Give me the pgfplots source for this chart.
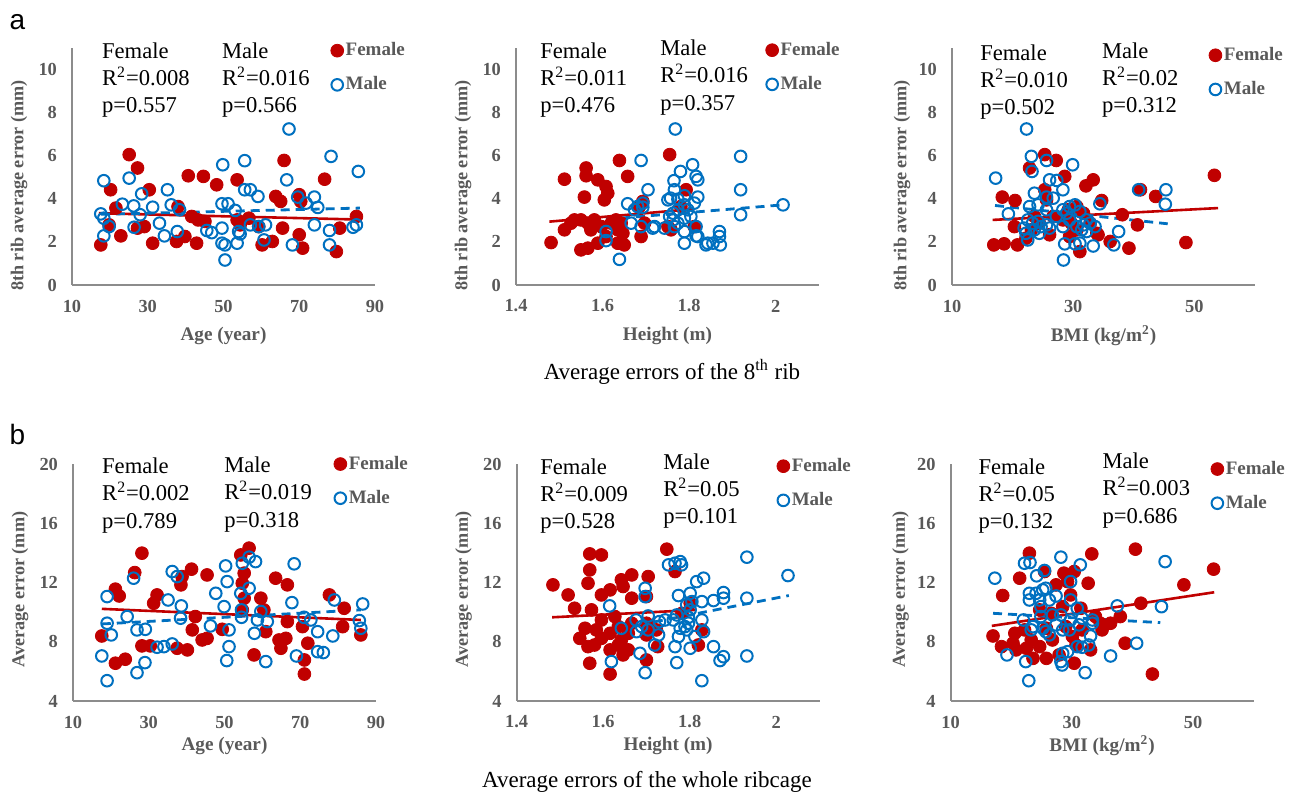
\documentclass[border=0pt]{standalone}
\usepackage{pgfplots}
\pgfplotsset{compat=1.18}
\usepackage{fontspec}
\setmainfont{Liberation Serif}
\newfontfamily\arialfont{Liberation Sans}
\definecolor{femred}{HTML}{C00000}
\definecolor{maleblue}{HTML}{0070C0}
\definecolor{tickgray}{HTML}{595959}
\definecolor{axgray}{HTML}{8C8C8C}
\newcommand{\labfont}{\bfseries\fontsize{9.6}{11}\selectfont\color{tickgray}}
\newcommand{\ylabfont}{\bfseries\fontsize{9.1}{11}\selectfont\color{tickgray}}
\pgfplotsset{
  panel/.style={
    scale only axis, width=151.5pt, height=118.5pt,
    axis x line*=bottom, axis y line*=left,
    axis line style={-, draw=axgray, line width=0.9pt},
    major tick length=0pt, tick style={draw=none},
    ticklabel style={font=\bfseries\fontsize{9.2}{10}\selectfont, text=tickgray},
    /pgf/number format/assume math mode=true,
    xticklabel style={anchor=center, yshift=-10.5pt},
    yticklabel style={anchor=east, xshift=-4pt},
    clip=false,
    legend cell align=left,
    legend style={draw=none, fill=none, inner sep=0pt, row sep=7pt, column sep=0pt,
      font=\bfseries\fontsize{9.5}{11}\selectfont, text=tickgray, nodes={inner sep=1pt}, anchor=north west},
    legend image code/.code={\draw[##1] plot coordinates {(0pt,0pt)};},
  },
  toprow/.style={ymin=0, ymax=11, ytick={0,2,4,6,8,10},
    every axis y label/.style={at={(axis description cs:-0.175,0.42)}, rotate=90, anchor=center, font=\ylabfont, text=tickgray},
    every axis x label/.style={at={(axis description cs:0.5,-0.215)}, anchor=center, font=\labfont, text=tickgray}},
  botrow/.style={ymin=4, ymax=20, ytick={4,8,12,16,20},
    every axis y label/.style={at={(axis description cs:-0.175,0.47)}, rotate=90, anchor=center, font=\ylabfont, text=tickgray},
    every axis x label/.style={at={(axis description cs:0.5,-0.19)}, anchor=center, font=\labfont, text=tickgray}},
  agex/.style={xmin=10, xmax=90, xtick={10,30,50,70,90}},
  htx/.style={xmin=1.4, xmax=2.1, xtick={1.4,1.6,1.8,2}},
  bmix/.style={xmin=10, xmax=60, xtick={10,30,50}},
  fem/.style={only marks, color=femred, mark=*, mark size=3.2pt, mark options={draw=femred, fill=femred}},
  mal/.style={only marks, color=maleblue, mark=o, mark size=2.9pt, mark options={draw=maleblue, line width=1pt}},
  femline/.style={femred, line width=1.3pt, no marks, forget plot},
  malline/.style={maleblue, line width=1.4pt, dash pattern=on 4.5pt off 3pt, no marks, forget plot},
}
\newcommand{\ann}[3]{\node[anchor=north west, align=left, inner sep=0pt, font=\fontsize{11.3}{13.7}\selectfont] at (rel axis cs:#1,#2) {#3};}
\begin{document}
\begin{tikzpicture}
\path[use as bounding box] (0,0) rectangle (651.5pt,398.5pt);
\node[font=\arialfont\fontsize{14}{14}\selectfont] at (8.75pt,387.25pt) {a};
\node[font=\arialfont\fontsize{14}{14}\selectfont] at (8.75pt,181pt) {b};
\node[font=\fontsize{11.5}{13}\selectfont] at (336pt,212.5pt) {Average errors of the 8\textsuperscript{th} rib};
\node[font=\fontsize{11.5}{13}\selectfont] at (323.5pt,7.5pt) {Average errors of the whole ribcage};

% ---------- Panel 1 ----------
\begin{axis}[panel, toprow, agex, at={(36pt,256pt)}, anchor=south west,
  xlabel={Age (year)}, ylabel={8th rib average error (mm)},
  legend style={at={(rel axis cs:0.853,1.033)}}]
\addplot[fem] coordinates {(25.1,6.05)(27.3,5.43)(20.2,4.42)(30.4,4.42)(21.6,3.57)(17.6,1.86)(22.9,2.28)(19.8,2.79)(29.1,2.71)(27.3,2.64)(31.3,1.94)(40.7,5.07)(44.7,5.04)(48.2,4.65)(38.0,3.64)(37.6,2.02)(39.8,2.25)(42.9,1.94)(41.6,3.18)(43.3,3.02)(45.1,2.95)(53.6,4.88)(53.6,3.02)(54.4,2.79)(56.7,3.10)(59.3,2.71)(60.2,1.86)(62.9,2.02)(63.8,4.11)(65.1,3.88)(66.0,5.78)(65.6,2.64)(70.0,4.19)(70.4,3.88)(70.0,2.33)(70.9,1.71)(76.7,4.91)(80.7,2.64)(79.8,1.55)(85.1,3.18)};
\addlegendentry{Female}
\addplot[mal] coordinates {(18.4,4.84)(25.1,4.96)(23.3,3.75)(26.3,3.67)(28.4,4.23)(31.3,3.61)(35.2,4.42)(36.2,3.72)(38.4,3.49)(17.6,3.30)(18.4,3.10)(19.8,2.71)(18.4,2.28)(26.4,2.68)(28.0,3.26)(33.1,2.87)(34.4,2.28)(37.8,2.48)(45.6,2.53)(46.9,2.43)(49.6,3.77)(51.2,3.77)(53.1,3.46)(49.6,2.64)(49.6,1.94)(50.4,1.86)(50.4,1.16)(53.6,1.94)(54.0,2.48)(54.4,2.37)(49.8,5.58)(55.6,5.77)(55.6,4.42)(57.1,4.42)(59.1,4.11)(57.1,2.79)(59.3,2.71)(61.1,2.79)(60.7,2.09)(67.3,7.24)(66.7,4.88)(69.6,4.08)(71.8,3.80)(74.0,4.08)(74.9,3.60)(74.0,2.79)(68.2,1.86)(78.0,2.53)(78.0,1.86)(78.4,5.97)(84.2,2.68)(85.1,2.79)(85.6,5.27)};
\addlegendentry{Male}
\addplot[femline] coordinates {(17.1,3.33)(85.1,3.04)};
\addplot[malline] coordinates {(17.6,3.28)(86.0,3.57)};
\ann{0.098}{1.025}{Female\\R\textsuperscript{2}=0.008\\p=0.557}
\ann{0.494}{1.025}{Male\\R\textsuperscript{2}=0.016\\p=0.566}
\end{axis}

% ---------- Panel 2 ----------
\begin{axis}[panel, toprow, htx, at={(258pt,256pt)}, anchor=south west,
  xlabel={Height (m)}, ylabel={8th rib average error (mm)},
  legend style={at={(rel axis cs:0.823,1.035)}}]
\addplot[fem] coordinates {(1.512,4.91)(1.562,5.43)(1.562,5.07)(1.589,4.88)(1.608,4.57)(1.612,4.26)(1.558,4.08)(1.604,3.95)(1.639,5.78)(1.658,5.04)(1.755,6.05)(1.793,4.42)(1.693,3.88)(1.481,1.97)(1.512,2.56)(1.527,2.87)(1.550,3.02)(1.566,2.87)(1.573,2.56)(1.597,2.71)(1.550,1.63)(1.566,1.71)(1.589,1.94)(1.608,2.25)(1.635,1.94)(1.650,1.86)(1.643,2.87)(1.647,2.40)(1.689,2.25)(1.697,2.87)(1.751,2.71)(1.758,2.56)(1.812,2.71)(1.631,3.02)(1.535,3.02)(1.581,3.02)(1.620,2.87)(1.635,2.56)(1.685,3.64)(1.781,3.64)};
\addlegendentry{Female}
\addplot[mal] coordinates {(1.768,7.24)(1.689,5.78)(1.808,5.58)(1.780,5.27)(1.765,4.84)(1.816,5.04)(1.820,4.88)(1.705,4.42)(1.766,4.42)(1.789,4.14)(1.820,4.08)(1.757,4.03)(1.774,3.98)(1.658,3.77)(1.681,3.64)(1.693,3.61)(1.789,3.72)(1.919,5.97)(1.919,4.42)(1.919,3.26)(2.017,3.72)(1.608,2.48)(1.608,2.06)(1.639,1.19)(1.666,2.87)(1.689,2.71)(1.716,2.64)(1.743,2.64)(1.763,3.02)(1.766,2.71)(1.789,3.10)(1.789,2.48)(1.789,1.94)(1.816,2.71)(1.816,2.28)(1.839,1.86)(1.855,1.94)(1.870,2.48)(1.870,2.25)(1.872,1.86)(1.763,3.33)(1.751,3.95)(1.797,3.49)(1.774,2.87)(1.804,3.18)(1.720,2.71)(1.674,3.49)(1.843,1.94)(1.820,2.25)(1.693,3.80)(1.774,3.49)(1.755,3.18)(1.812,3.80)};
\addlegendentry{Male}
\addplot[femline] coordinates {(1.477,2.94)(1.812,3.53)};
\addplot[malline] coordinates {(1.608,3.05)(2.017,3.72)};
\ann{0.079}{1.025}{Female\\R\textsuperscript{2}=0.011\\p=0.476}
\ann{0.475}{1.037}{Male\\R\textsuperscript{2}=0.016\\p=0.357}
\end{axis}

% ---------- Panel 3 ----------
\begin{axis}[panel, toprow, bmix, at={(476pt,256pt)}, anchor=south west,
  xlabel={BMI (kg/m\textsuperscript{2})}, ylabel={8th rib average error (mm)},
  every axis y label/.append style={at={(axis description cs:-0.165,0.42)}},
  legend style={at={(rel axis cs:0.847,1.0135)}}]
\addplot[fem] coordinates {(25.3,6.05)(27.2,5.78)(22.8,5.43)(28.6,5.04)(32.1,4.60)(33.3,4.88)(18.3,4.08)(20.4,3.92)(25.3,4.42)(34.7,3.92)(41.1,4.42)(43.6,4.11)(53.3,5.09)(38.1,3.26)(40.6,2.79)(48.6,1.97)(39.2,1.71)(36.1,2.02)(16.9,1.86)(18.6,1.91)(20.8,1.86)(20.3,2.71)(23.6,3.18)(23.1,2.56)(26.1,2.33)(29.2,3.49)(29.7,2.87)(30.6,2.56)(31.1,1.55)(34.1,2.33)(28.3,3.02)(31.7,3.33)(24.4,2.87)(22.2,2.17)(25.6,3.95)(30.6,3.64)(32.8,2.87)(33.9,2.40)(26.7,3.18)(29.4,2.25)};
\addlegendentry{Female}
\addplot[mal] coordinates {(22.3,7.24)(23.1,5.97)(25.6,5.78)(29.9,5.58)(17.2,4.96)(23.2,5.27)(26.1,4.88)(27.3,4.85)(28.3,4.42)(23.6,4.26)(26.7,4.03)(25.6,4.08)(19.3,3.30)(22.8,3.64)(24.2,3.72)(25.6,3.49)(28.3,3.49)(30.3,3.72)(31.1,3.41)(34.4,3.77)(40.8,4.42)(45.3,4.42)(45.2,3.75)(21.9,2.64)(22.5,2.09)(23.6,2.56)(24.7,2.71)(25.6,2.79)(28.3,2.71)(29.4,3.02)(30.6,2.71)(31.7,2.79)(32.8,2.87)(33.6,2.71)(37.5,2.48)(36.7,1.86)(33.3,1.81)(28.6,1.91)(30.3,1.91)(31.1,1.94)(28.4,1.16)(24.2,2.95)(27.2,3.18)(22.2,2.40)(32.2,3.02)(29.4,3.64)(23.3,2.87)(26.1,2.64)(31.4,2.56)(28.9,3.33)(24.4,2.40)(32.2,2.48)(22.5,3.02)};
\addlegendentry{Male}
\addplot[femline] coordinates {(16.7,3.02)(53.9,3.57)};
\addplot[malline] coordinates {(17.1,3.69)(45.6,2.84)};
\ann{0.092}{1.017}{Female\\R\textsuperscript{2}=0.010\\p=0.502}
\ann{0.494}{1.025}{Male\\R\textsuperscript{2}=0.02\\p=0.312}
\end{axis}

% ---------- Panel 4 ----------
\begin{axis}[panel, botrow, agex, at={(36.5pt,48pt)}, anchor=south west,
  xlabel={Age (year)}, ylabel={Average error (mm)},
  legend style={at={(rel axis cs:0.860,1.044)}}]
\addplot[fem] coordinates {(28.2,13.98)(26.3,12.67)(21.2,11.55)(22.2,11.09)(32.2,11.16)(31.3,10.60)(17.6,8.39)(21.2,6.55)(23.8,6.82)(28.2,7.72)(30.4,7.72)(37.5,7.56)(40.2,7.45)(38.8,12.40)(41.3,12.90)(38.5,11.84)(45.4,12.51)(42.3,9.70)(41.5,8.80)(44.1,8.12)(45.4,8.23)(49.4,8.84)(54.3,13.86)(56.5,14.32)(55.2,12.63)(54.7,11.95)(55.2,10.94)(54.7,10.15)(57.8,7.11)(59.6,10.94)(60.4,10.15)(60.9,8.68)(63.5,12.29)(64.4,8.12)(64.9,7.56)(66.2,8.23)(66.6,11.84)(66.6,9.36)(70.6,9.02)(72.0,7.90)(71.1,6.77)(71.1,5.82)(77.7,11.16)(81.6,10.26)(81.2,9.02)(86.0,8.46)};
\addlegendentry{Female}
\addplot[mal] coordinates {(19.0,11.05)(26.0,12.29)(36.2,12.74)(37.5,12.40)(50.3,13.12)(50.7,12.06)(56.5,13.71)(58.2,13.41)(54.7,13.30)(68.4,13.26)(47.7,11.27)(54.3,11.27)(56.5,11.61)(49.9,10.37)(54.5,10.15)(35.1,10.82)(38.6,10.42)(67.8,10.64)(79.0,10.82)(86.5,10.55)(19.0,9.25)(24.3,9.70)(20.1,8.46)(26.9,8.80)(29.1,8.84)(32.2,7.63)(34.0,7.67)(36.2,7.85)(17.6,7.04)(29.0,6.59)(26.9,5.91)(19.0,5.37)(46.3,9.07)(51.2,8.80)(51.2,7.67)(50.6,6.73)(57.9,8.57)(58.7,9.47)(59.6,10.04)(61.3,9.36)(60.9,6.66)(71.0,9.65)(72.8,9.47)(74.6,8.68)(78.6,8.39)(74.6,7.33)(76.1,7.27)(69.0,7.04)(85.6,9.43)(86.0,8.91)(38.4,9.59)(54.5,9.65)};
\addlegendentry{Male}
\addplot[femline] coordinates {(17.6,10.22)(86.0,9.47)};
\addplot[malline] coordinates {(17.6,9.20)(86.0,10.15)};
\ann{0.095}{1.028}{Female\\R\textsuperscript{2}=0.002\\p=0.789}
\ann{0.498}{1.033}{Male\\R\textsuperscript{2}=0.019\\p=0.318}
\end{axis}

% ---------- Panel 5 ----------
\begin{axis}[panel, botrow, htx, at={(258.3pt,48pt)}, anchor=south west,
  xlabel={Height (m)}, ylabel={Average error (mm)},
  legend style={at={(rel axis cs:0.858,1.035)}}]
\addplot[fem] coordinates {(1.484,11.84)(1.519,11.16)(1.534,10.26)(1.569,13.93)(1.596,13.86)(1.569,12.85)(1.565,11.95)(1.596,11.16)(1.616,11.50)(1.642,12.18)(1.666,12.51)(1.646,11.73)(1.704,12.40)(1.666,10.94)(1.700,11.05)(1.573,10.15)(1.596,9.47)(1.558,8.91)(1.546,8.23)(1.565,7.67)(1.569,6.55)(1.596,8.23)(1.616,8.57)(1.616,7.45)(1.616,5.82)(1.642,8.12)(1.646,7.11)(1.635,9.02)(1.658,8.57)(1.700,8.46)(1.700,6.77)(1.726,7.67)(1.747,14.25)(1.766,12.74)(1.801,10.60)(1.820,7.78)(1.828,8.80)(1.627,9.70)(1.666,9.25)(1.584,8.80)(1.580,7.78)(1.635,7.78)(1.658,7.45)(1.700,9.25)(1.723,8.80)(1.782,9.92)};
\addlegendentry{Female}
\addplot[mal] coordinates {(1.751,13.19)(1.766,13.30)(1.778,13.41)(1.781,13.19)(1.932,13.71)(2.027,12.47)(1.816,12.06)(1.832,12.29)(1.697,11.61)(1.801,11.27)(1.774,11.12)(1.878,11.32)(1.878,10.94)(1.855,10.78)(1.932,10.94)(1.828,10.71)(1.615,10.42)(1.697,11.05)(1.793,10.49)(1.801,10.15)(1.704,9.74)(1.730,9.36)(1.770,9.81)(1.797,9.65)(1.828,9.47)(1.676,9.47)(1.642,8.91)(1.677,8.68)(1.704,8.80)(1.728,8.46)(1.778,8.91)(1.793,8.80)(1.774,8.35)(1.832,8.68)(1.719,7.78)(1.766,7.67)(1.801,7.56)(1.855,7.67)(1.685,7.22)(1.770,6.59)(1.878,6.99)(1.870,6.73)(1.932,7.04)(1.619,6.66)(1.697,5.91)(1.828,5.37)(1.762,9.47)(1.789,9.02)(1.805,10.71)(1.689,9.02)(1.797,9.25)(1.743,9.47)(1.812,8.35)};
\addlegendentry{Male}
\addplot[femline] coordinates {(1.482,9.65)(1.816,10.15)};
\addplot[malline] coordinates {(1.615,8.75)(2.029,11.12)};
\ann{0.077}{1.025}{Female\\R\textsuperscript{2}=0.009\\p=0.528}
\ann{0.483}{1.046}{Male\\R\textsuperscript{2}=0.05\\p=0.101}
\end{axis}

% ---------- Panel 6 ----------
\begin{axis}[panel, botrow, bmix, at={(475.3pt,48pt)}, anchor=south west,
  xlabel={BMI (kg/m\textsuperscript{2})}, ylabel={Average error (mm)},
  every axis y label/.append style={at={(axis description cs:-0.165,0.47)}},
  legend style={at={(rel axis cs:0.858,1.023)}}]
\addplot[fem] coordinates {(23.0,13.98)(33.3,13.93)(40.5,14.25)(53.4,12.90)(25.5,12.74)(21.4,12.29)(28.7,12.63)(30.4,12.74)(32.7,11.95)(27.4,11.84)(18.6,11.12)(29.8,11.16)(48.5,11.84)(41.4,10.60)(24.7,10.15)(26.6,9.92)(28.5,10.37)(31.5,10.26)(38.0,9.70)(34.7,9.25)(36.4,9.25)(17.0,8.39)(18.4,7.67)(20.6,8.57)(20.3,7.90)(23.3,8.12)(24.7,7.67)(23.6,6.88)(25.8,6.88)(27.9,7.11)(30.4,6.55)(30.1,8.35)(31.7,8.80)(33.1,7.45)(38.8,7.90)(43.3,5.82)(25.8,8.91)(29.0,9.02)(22.2,8.80)(22.5,7.56)(26.8,8.12)(30.7,7.78)(33.9,9.70)(20.8,7.45)(29.3,12.06)(35.0,8.80)};
\addlegendentry{Female}
\addplot[mal] coordinates {(17.3,12.29)(22.2,13.30)(23.1,13.35)(28.2,13.71)(31.4,13.19)(45.4,13.41)(25.5,12.81)(24.2,12.45)(29.8,12.06)(23.0,11.27)(24.1,11.27)(25.2,11.50)(25.7,11.61)(23.0,10.82)(24.7,10.82)(26.3,10.82)(27.4,11.09)(29.8,10.82)(30.9,10.26)(37.5,10.42)(44.8,10.37)(22.0,9.47)(24.9,9.70)(26.8,9.81)(28.2,9.81)(29.8,9.47)(31.7,9.59)(33.4,9.47)(33.4,9.25)(23.3,8.80)(25.2,8.91)(25.7,8.68)(26.3,8.46)(28.5,8.80)(33.1,8.39)(32.8,7.78)(30.9,7.67)(31.7,7.63)(29.3,7.33)(28.5,7.22)(40.7,7.90)(36.4,7.04)(19.3,7.11)(22.4,6.66)(28.2,6.66)(28.4,6.43)(32.2,5.91)(22.9,5.37)(23.6,9.02)(27.4,9.14)(29.6,8.80)(24.9,10.37)(31.2,9.14)};
\addlegendentry{Male}
\addplot[femline] coordinates {(16.8,9.07)(53.5,11.34)};
\addplot[malline] coordinates {(17.0,9.92)(44.6,9.29)};
\ann{0.091}{1.025}{Female\\R\textsuperscript{2}=0.05\\p=0.132}
\ann{0.500}{1.050}{Male\\R\textsuperscript{2}=0.003\\p=0.686}
\end{axis}
\end{tikzpicture}
\end{document}
